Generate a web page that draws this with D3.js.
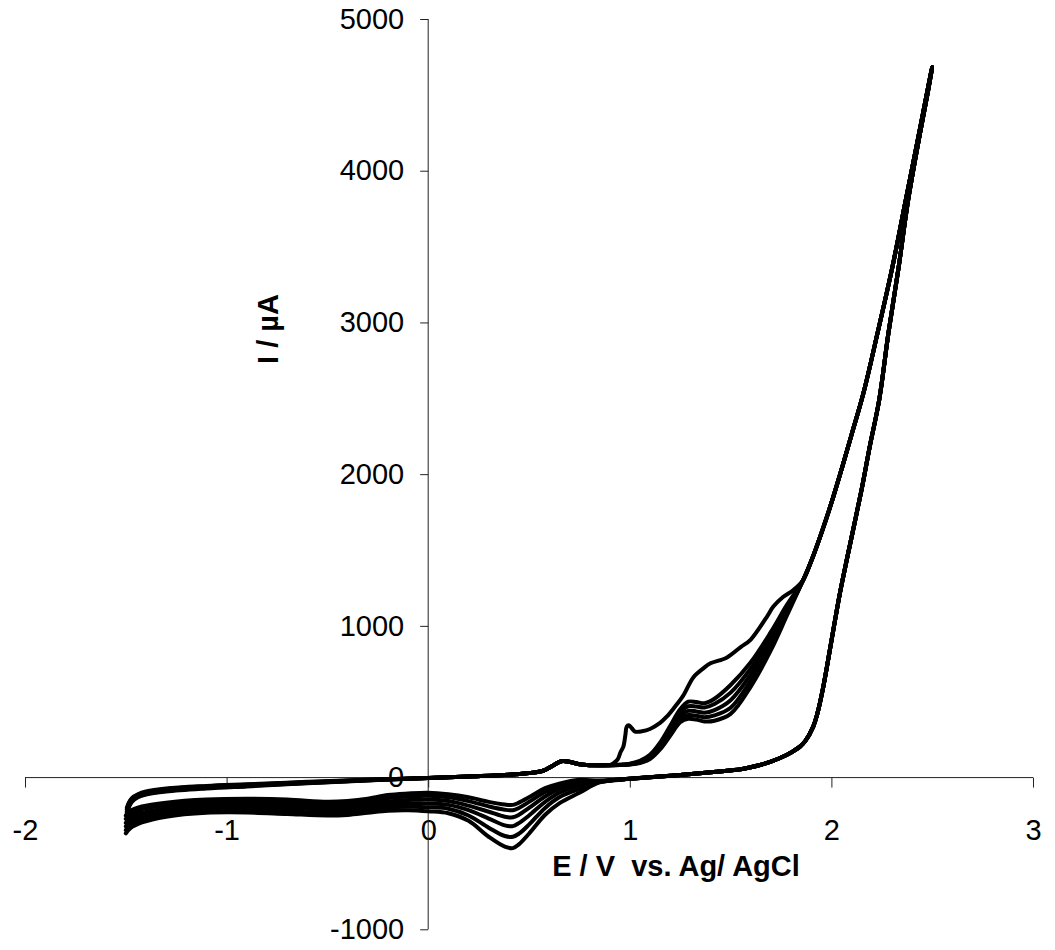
<!DOCTYPE html>
<html>
<head>
<meta charset="utf-8">
<script src="https://cdn.jsdelivr.net/npm/d3@7"></script>
<style>
  html, body { margin: 0; padding: 0; background: #fff; }
  svg { display: block; }
  text { font-family: "Liberation Sans", Arial, sans-serif; }
</style>
</head>
<body>
<svg id="chart" width="1055" height="950"></svg>
<script>
// ---------------- DATA ----------------
const xTicks = [-2, -1, 0, 1, 2, 3];
const yTicks = [-1000, 0, 1000, 2000, 3000, 4000, 5000];
const xTitle = "E / V  vs. Ag/ AgCl";
const yTitle = "I / µA";

// forward (anodic) scan, start near -1.5 V: per-cycle tail
const fwdTailE = [-1.495, -1.485, -1.47, -1.44, -1.40, -1.30, -1.10, -0.90, -0.60, -0.30];
const fwdTailI = [
  [-200, -165, -135, -110, -92, -72, -55, -44, -28, -14],
  [-210, -172, -140, -114, -96, -76, -58, -47, -30, -15],
  [-220, -178, -146, -118, -100, -80, -62, -50, -32, -16],
  [-228, -184, -150, -122, -104, -84, -65, -52, -34, -17],
  [-236, -190, -155, -126, -108, -88, -68, -55, -36, -18],
  [-244, -196, -160, -130, -112, -92, -72, -58, -38, -19]
];
// forward scan, common part 0 .. 0.8 V
const fwdMidE = [0.00, 0.20, 0.40, 0.50, 0.57, 0.62, 0.66, 0.70, 0.75, 0.80];
const fwdMidI = [-3, 7, 18, 30, 45, 80, 108, 104, 88, 82];

// oxidation region, first cycle
const ox1E = [0.90, 0.918, 0.94, 0.955, 0.968, 0.978, 0.985, 0.995, 1.01, 1.026, 1.06, 1.10, 1.15, 1.183, 1.22, 1.265, 1.315, 1.365, 1.40, 1.48, 1.55, 1.60, 1.68, 1.712, 1.76, 1.81];
const ox1I = [82, 94, 120, 170, 204, 280, 336, 345, 325, 303, 305, 320, 360, 401, 460, 540, 660, 720, 753, 790, 860, 910, 1060, 1127, 1190, 1235];
// oxidation region, later cycles
const oxE = [0.90, 0.95, 1.00, 1.05, 1.10, 1.15, 1.20, 1.25, 1.29, 1.33, 1.37, 1.42, 1.50, 1.60, 1.70, 1.78];
const oxI = [
  [82, 84, 92, 110, 150, 230, 340, 450, 500, 498, 490, 520, 610, 760, 960, 1140],
  [82, 84, 90, 106, 142, 218, 325, 430, 470, 468, 462, 485, 560, 720, 930, 1120],
  [82, 83, 88, 102, 135, 205, 305, 405, 440, 436, 428, 445, 510, 680, 900, 1100],
  [82, 83, 87, 99, 128, 195, 290, 385, 412, 408, 398, 410, 460, 640, 870, 1085],
  [82, 83, 86, 96, 122, 185, 275, 365, 388, 382, 370, 375, 420, 600, 840, 1070]
];
// forward scan high potential (common)
const fwdHighE = [1.86, 1.902, 1.95, 2.00, 2.05, 2.10, 2.16, 2.229, 2.303, 2.369, 2.435, 2.50];
const fwdHighI = [1302, 1434, 1610, 1810, 2030, 2260, 2540, 2931, 3368, 3808, 4248, 4684];
// reverse scan high potential (common)
const revHighE = [2.48, 2.44, 2.38, 2.334, 2.283, 2.237, 2.19, 2.15, 2.076, 2.04, 2.00, 1.96, 1.93, 1.91, 1.87, 1.844, 1.80, 1.778, 1.70, 1.646, 1.55, 1.43, 1.25, 1.00];
const revHighI = [4530, 4250, 3800, 3368, 2931, 2489, 2180, 1900, 1434, 1200, 900, 600, 420, 336, 240, 204, 165, 149, 105, 83, 55, 39, 17, -8];
// reverse (cathodic) scan 0.85 .. -1.5 V, per cycle
const redE = [0.85, 0.75, 0.65, 0.58, 0.50, 0.45, 0.42, 0.38, 0.30, 0.20, 0.10, 0.00, -0.10, -0.20, -0.30, -0.40, -0.50, -0.70, -0.90, -1.10, -1.30, -1.42, -1.48, -1.50];
const redI = [
  [-20, -15, -40, -70, -130, -165, -180, -178, -160, -130, -110, -100, -105, -115, -140, -155, -160, -145, -140, -145, -165, -190, -220, -250],
  [-22, -25, -55, -95, -160, -200, -215, -212, -190, -155, -130, -120, -125, -135, -158, -172, -177, -165, -157, -162, -183, -208, -243, -272],
  [-25, -40, -75, -125, -200, -245, -262, -258, -225, -185, -155, -145, -148, -158, -176, -190, -194, -184, -175, -180, -203, -232, -268, -298],
  [-28, -55, -100, -160, -250, -300, -320, -315, -270, -215, -180, -170, -170, -178, -194, -208, -212, -202, -193, -198, -222, -254, -292, -322],
  [-30, -75, -130, -200, -310, -370, -390, -385, -330, -250, -205, -195, -193, -198, -213, -228, -232, -222, -212, -215, -240, -276, -314, -346],
  [-32, -100, -170, -245, -370, -440, -465, -455, -390, -285, -235, -222, -215, -218, -232, -246, -250, -240, -230, -232, -258, -296, -336, -368]
];

// ---------------- CHART ----------------
const svg = d3.select("#chart");
const x = d3.scaleLinear().domain([-2, 3]).range([25, 1033]);
const y = d3.scaleLinear().domain([-1000, 5000]).range([929.3, 19]);

const zip = (E, I) => E.map((e, i) => [e, I[i]]);

// build cycles
const cycles = fwdTailI.map((tail, k) => {
  const pts = [];
  pts.push(...zip(fwdTailE, tail));
  pts.push(...zip(fwdMidE, fwdMidI));
  if (k === 0) pts.push(...zip(ox1E, ox1I));
  else pts.push(...zip(oxE, oxI[k - 1]));
  pts.push(...zip(fwdHighE, fwdHighI));
  pts.push(...zip(revHighE, revHighI));
  pts.push(...zip(redE, redI[k]));
  return pts;
});

// axes
const fmt = d => String(d);
const xAxis = d3.axisBottom(x).tickValues(xTicks).tickSize(10).tickSizeOuter(0).tickPadding(32).tickFormat(fmt);
const yAxis = d3.axisLeft(y).tickValues(yTicks).tickSize(8).tickSizeOuter(0).tickPadding(16).tickFormat(fmt);

const gx = svg.append("g").attr("transform", `translate(0,${y(0)})`).call(xAxis);
const gy = svg.append("g").attr("transform", `translate(${x(0)},0)`).call(yAxis);
[gx, gy].forEach(g => {
  g.selectAll("path.domain").attr("stroke", "#222").attr("stroke-width", 1);
  g.selectAll(".tick line").attr("stroke", "#222").attr("stroke-width", 1);
  g.selectAll(".tick text").attr("font-size", 29).attr("fill", "#000")
    .style("font-family", '"Liberation Sans", Arial, sans-serif');
});
gx.select("path.domain").attr("d", `M${x(-2)},0H${x(3)}`);
gy.select("path.domain").attr("d", `M0,${y(-1000)}V${y(5000)}`);

// curves
const line = d3.line()
  .x(d => x(d[0]))
  .y(d => y(d[1]))
  .curve(d3.curveCatmullRom.alpha(0.5));

svg.append("g").selectAll("path.cv")
  .data(cycles)
  .join("path")
  .attr("class", "cv")
  .attr("d", d => line(d))
  .attr("fill", "none")
  .attr("stroke", "#000")
  .attr("stroke-width", 4)
  .attr("stroke-linejoin", "round")
  .attr("stroke-linecap", "round");

// titles
svg.append("text")
  .attr("x", 676).attr("y", 876)
  .attr("text-anchor", "middle")
  .attr("font-size", 29).attr("font-weight", "bold")
  .style("white-space", "pre")
  .attr("xml:space", "preserve")
  .text(xTitle);

svg.append("text")
  .attr("transform", `translate(278,329) rotate(-90)`)
  .attr("text-anchor", "middle")
  .attr("font-size", 29).attr("font-weight", "bold")
  .text(yTitle);
</script>
</body>
</html>
